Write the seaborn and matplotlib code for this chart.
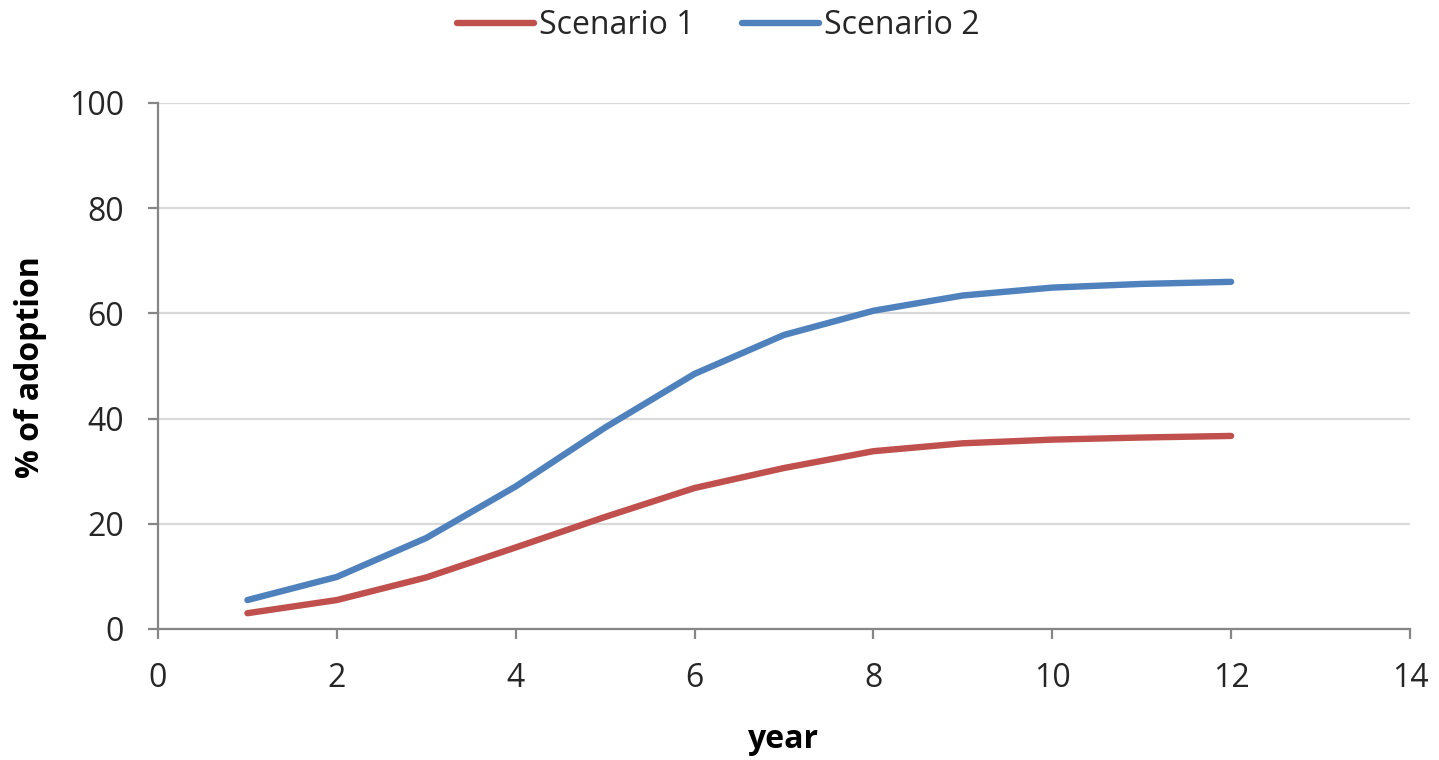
import matplotlib
matplotlib.use("Agg")
import matplotlib.pyplot as plt
import seaborn as sns
import pandas as pd

years = [1, 2, 3, 4, 5, 6, 7, 8, 9, 10, 11, 12]
scenario_1 = [3.0, 5.5, 9.8, 15.5, 21.3, 26.8, 30.6, 33.8, 35.3, 36.0, 36.4, 36.7]
scenario_2 = [5.5, 9.9, 17.3, 27.1, 38.3, 48.5, 55.9, 60.5, 63.4, 64.9, 65.6, 66.0]
series_names = ["Scenario 1", "Scenario 2"]
series_colors = ["#C0504D", "#4F81BD"]

df = pd.DataFrame({
    "year": years * 2,
    "value": scenario_1 + scenario_2,
    "series": [series_names[0]] * len(years) + [series_names[1]] * len(years),
})

sns.set_theme(style="white")
plt.rcParams["font.family"] = ["Open Sans", "DejaVu Sans"]

fig = plt.figure(figsize=(14.39, 7.6), dpi=100)
ax = fig.add_axes([0.1098, 0.1724, 0.8700, 0.6921])

sns.lineplot(data=df, x="year", y="value", hue="series", palette=series_colors,
             linewidth=4.6, ax=ax, legend=True, solid_capstyle="round",
             solid_joinstyle="round")

ax.set_xlim(0, 14)
ax.set_ylim(0, 100)
ax.set_xticks(range(0, 15, 2))
ax.set_yticks(range(0, 101, 20))
ax.yaxis.grid(True, color="#d9d9d9", linewidth=1.6)
ax.xaxis.grid(False)
for side in ["top", "right"]:
    ax.spines[side].set_visible(False)
for side in ["left", "bottom"]:
    ax.spines[side].set_color("#868686")
    ax.spines[side].set_linewidth(1.6)
ax.tick_params(axis="both", which="major", labelsize=23, length=7.5, width=1.6,
               color="#868686", direction="out", labelcolor="#262626",
               bottom=True, left=True)
ax.tick_params(axis="y", pad=17)
ax.tick_params(axis="x", pad=16)

ax.set_xlabel("year", fontsize=23, fontweight="bold", color="#000000")
ax.set_ylabel("% of adoption", fontsize=23, fontweight="bold", color="#000000")
ax.xaxis.set_label_coords(0.5, -0.178)
ax.yaxis.set_label_coords(-0.089, 0.497)

handles, labels = ax.get_legend_handles_labels()
leg = ax.legend(handles, labels, loc="center", bbox_to_anchor=(0.4993, 0.966),
                bbox_transform=fig.transFigure, ncol=2, frameon=False,
                fontsize=23, handlelength=2.4, handletextpad=0.15,
                columnspacing=1.5, labelcolor="#262626")
for line in leg.get_lines():
    line.set_linewidth(4.6)
    line.set_solid_capstyle("round")

fig.savefig("out.png", dpi=100)
